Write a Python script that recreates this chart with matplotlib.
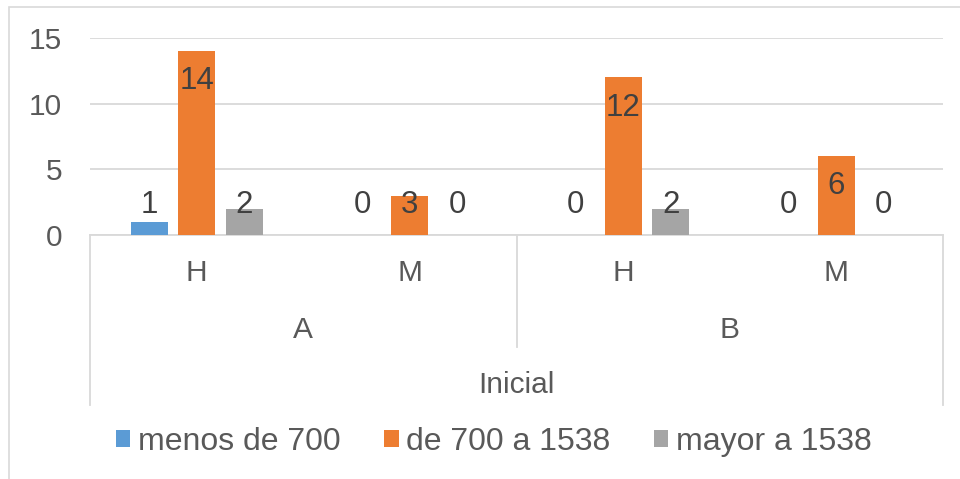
import matplotlib.pyplot as plt
from matplotlib.patches import Rectangle
import numpy as np

plt.rcParams['font.family'] = ['Liberation Sans', 'DejaVu Sans']

sexes = ["H", "M", "H", "M"]
groups = ["A", "B"]
stage = "Inicial"
series_names = ["menos de 700", "de 700 a 1538", "mayor a 1538"]
menos_700 = [1, 0, 0, 0]
de_700_1538 = [14, 3, 12, 6]
mayor_1538 = [2, 0, 2, 0]

colors = ["#5B9BD5", "#ED7D31", "#A5A5A5"]
txt = "#595959"
grid = "#D9D9D9"
fs = 21.5

W, H = 960, 479
fig = plt.figure(figsize=(W / 100, H / 100), dpi=100)

def px(x, y):
    # pixel position (from top-left) -> figure fraction
    return x / W, 1 - y / H

# outer chart border
fig.patches.append(Rectangle(px(9, 490), (975 - 9) / W, (490 - 7) / H,
                             transform=fig.transFigure, fill=False,
                             edgecolor=grid, lw=1.2))

left, top = px(90, 38)
right, bottom = px(943, 235)
ax = fig.add_axes([left, bottom, right - left, top - bottom])

x = np.arange(len(sexes)) + 0.5
bw = 0.174
off = 0.223
for i, vals in enumerate([menos_700, de_700_1538, mayor_1538]):
    xs = x + (i - 1) * off
    ax.bar(xs, vals, width=bw, color=colors[i], label=series_names[i], zorder=3)
    for xi, v in zip(xs, vals):
        ly = max(v - 2.3, 2.3)
        ax.text(xi, ly, str(v), ha="center", va="center", fontsize=fs + 1,
                color="#404040", zorder=4)

ax.set_xlim(0, len(sexes))
ax.set_ylim(0, 15)
ax.set_yticks([0, 5, 10, 15])
ax.yaxis.grid(True, color=grid, lw=1.3, zorder=0)
ax.set_xticks([])
ax.tick_params(axis="y", length=0, labelsize=fs, labelcolor=txt, pad=20)
for s in ["top", "right", "left"]:
    ax.spines[s].set_visible(False)
ax.spines["bottom"].set_color(grid)
ax.spines["bottom"].set_linewidth(1.3)

# multi-level category axis
for xi, lab in zip(x, sexes):
    fig.text(ax.transData.transform((xi, 0))[0] / W, px(0, 273)[1], lab,
             ha="center", va="center", fontsize=fs, color=txt)
for gi, g in enumerate(groups):
    fig.text((left + (right - left) * (0.25 + 0.5 * gi)), px(0, 330)[1], g,
             ha="center", va="center", fontsize=fs, color=txt)
fig.text((left + right) / 2, px(0, 385)[1], stage,
         ha="center", va="center", fontsize=fs, color=txt)

for xf, y_end in [(left, 405), (right, 405), ((left + right) / 2, 347)]:
    fig.add_artist(plt.Line2D([xf, xf], [bottom, px(0, y_end)[1]],
                              transform=fig.transFigure, color=grid, lw=1.3))

fig.legend(loc="center", bbox_to_anchor=(494 / W, px(0, 442)[1]), ncol=3,
           frameon=False, fontsize=23, labelcolor=txt,
           handlelength=0.45, handleheight=0.45, handletextpad=0.25,
           columnspacing=1.35)

fig.savefig("out.png", dpi=100)
